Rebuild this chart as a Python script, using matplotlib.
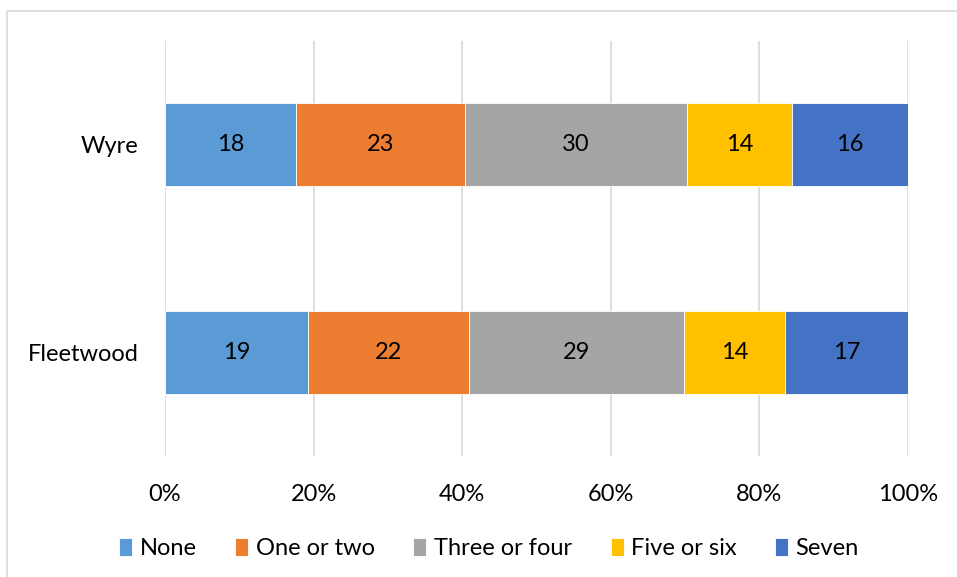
import matplotlib
matplotlib.use("Agg")
import matplotlib.pyplot as plt
from matplotlib.patches import Rectangle
import numpy as np

# percentages per area (rows) and category (columns)
areas = ["Fleetwood", "Wyre"]
categories = ["None", "One or two", "Three or four", "Five or six", "Seven"]
fleetwood = [19.3, 21.7, 29.1, 13.6, 16.6]
wyre = [17.6, 22.8, 29.9, 14.2, 15.6]
colors = ["#5B9BD5", "#ED7D31", "#A5A5A5", "#FFC000", "#4472C4"]
x_ticks = [0, 20, 40, 60, 80, 100]

plt.rcParams["font.family"] = ["Lato", "DejaVu Sans"]
FS = 17

fig = plt.figure(figsize=(9.57, 5.77), dpi=100)
ax = fig.add_axes([165 / 957, 1 - 456 / 577, 743 / 957, 415 / 577])

# chart-area border (Excel style)
fig.patches.append(Rectangle((7 / 957, -0.05), 1.1, 1 - 11 / 577 + 0.05,
                             transform=fig.transFigure, fill=False,
                             edgecolor="#d9d9d9", lw=1.2))

data = np.array([fleetwood, wyre])
shares = data / data.sum(axis=1, keepdims=True) * 100
y = np.arange(len(areas))
left = np.zeros(len(areas))
for j, cat in enumerate(categories):
    bars = ax.barh(y, shares[:, j], left=left, height=0.4, color=colors[j],
                   edgecolor="white", lw=0.6, label=cat, zorder=3)
    ax.bar_label(bars, labels=[f"{v:.0f}" for v in data[:, j]],
                 label_type="center", fontsize=FS, color="black")
    left += shares[:, j]

ax.set_xlim(0, 100)
ax.set_ylim(-0.5, 1.5)
ax.set_xticks(x_ticks)
ax.set_xticklabels([f"{t}%" for t in x_ticks], fontsize=FS)
ax.set_yticks(y)
ax.set_yticklabels(areas, fontsize=FS)
ax.tick_params(axis="x", length=0, pad=20)
ax.tick_params(axis="y", length=0, pad=19)
ax.grid(axis="x", color="#d9d9d9", lw=1.2, zorder=0)
for s in ax.spines.values():
    s.set_visible(False)

fig.legend(*ax.get_legend_handles_labels(), loc="center",
           bbox_to_anchor=(0.511, 0.049), ncols=5, frameon=False,
           fontsize=FS, handlelength=0.55, handleheight=0.75,
           handletextpad=0.3, columnspacing=1.65)

fig.savefig("out.png", dpi=100)
